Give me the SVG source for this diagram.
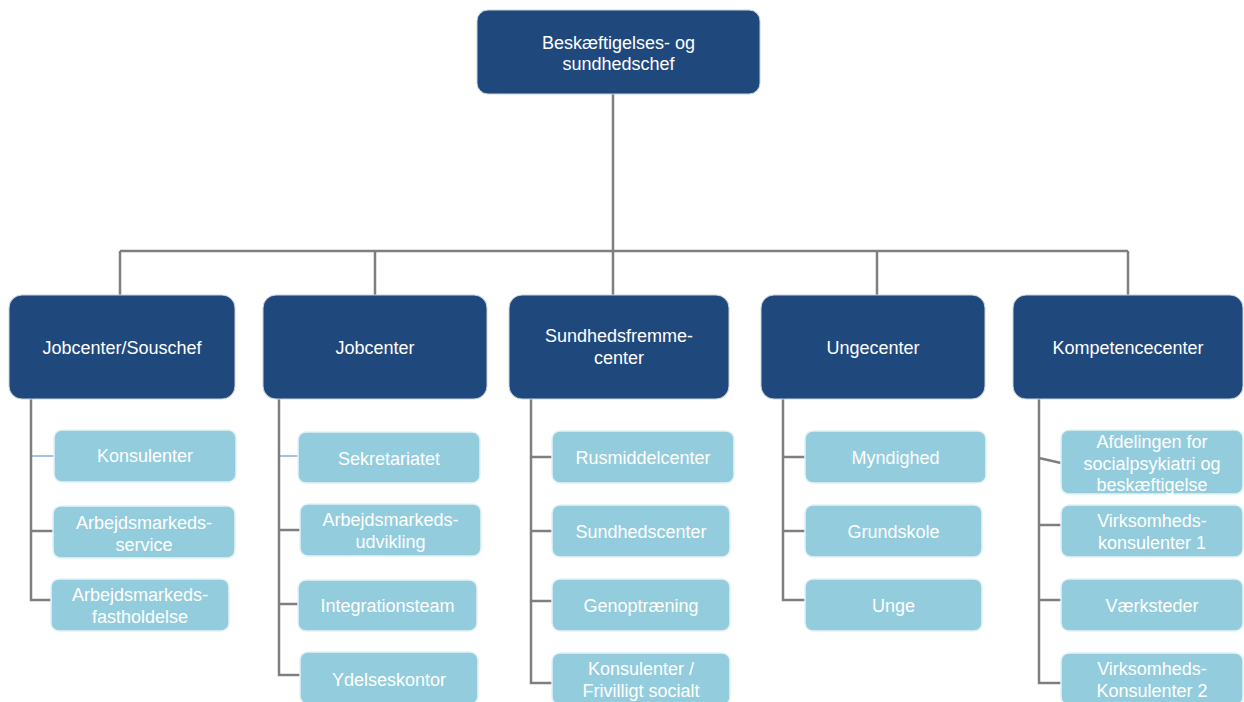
<svg xmlns="http://www.w3.org/2000/svg" width="1244" height="702" viewBox="0 0 1244 702">
<style>
.d{fill:#1f497d;stroke:#c9d3e0;stroke-width:1}
.l{fill:#93cddd;stroke:#e3f2f6;stroke-width:1.5}
.t{font-family:"Liberation Sans",Arial,sans-serif;font-size:18px;fill:#ffffff;text-anchor:middle}
.c{fill:none;stroke:#7f7f7f;stroke-width:2.5}
.b{fill:none;stroke:#4f81bd;stroke-width:1}
</style>
<rect width="1244" height="702" fill="#ffffff"/>
<g id="connectors">
<path class="c" d="M613 94V251M120 251H1128M120 251V295M375 251V295M613 251V295M877 251V295M1128 251V295"/>
<path class="c" d="M31 399V600H51M31 531H53"/>
<path class="b" d="M31 456H54"/>
<path class="c" d="M279 399V675H300M279 530H300M279 604H298"/>
<path class="b" d="M279 456H298"/>
<path class="c" d="M531 399V683H552M531 457H552M531 531H552M531 601H552"/>
<path class="c" d="M783 399V600H805M783 457H805M783 531H805"/>
<path class="c" d="M1039 399V683H1061M1039 458L1061 463M1039 525H1061M1039 600H1061"/>
</g>
<g id="n-top"><rect class="d" x="477" y="10" width="283" height="84" rx="11"/><text class="t" x="618.5" y="49">Beskæftigelses- og</text><text class="t" x="618.5" y="70">sundhedschef</text></g>
<g id="n-jcs"><rect class="d" x="9" y="295" width="226" height="104" rx="13"/><text class="t" x="122" y="354">Jobcenter/Souschef</text></g>
<g id="n-jc"><rect class="d" x="263" y="295" width="224" height="104" rx="13"/><text class="t" x="375" y="354">Jobcenter</text></g>
<g id="n-sf"><rect class="d" x="509" y="295" width="220" height="104" rx="13"/><text class="t" x="619" y="342">Sundhedsfremme-</text><text class="t" x="619" y="364">center</text></g>
<g id="n-uc"><rect class="d" x="761" y="295" width="224" height="104" rx="13"/><text class="t" x="873" y="354">Ungecenter</text></g>
<g id="n-kc"><rect class="d" x="1013" y="295" width="230" height="104" rx="13"/><text class="t" x="1128" y="354">Kompetencecenter</text></g>

<g id="n-kons"><rect class="l" x="54" y="430" width="182" height="52" rx="8"/><text class="t" x="145" y="462">Konsulenter</text></g>
<g id="n-ams"><rect class="l" x="53" y="506" width="182" height="52" rx="8"/><text class="t" x="144" y="529">Arbejdsmarkeds-</text><text class="t" x="144" y="551">service</text></g>
<g id="n-amf"><rect class="l" x="51" y="579" width="178" height="52" rx="8"/><text class="t" x="140" y="601">Arbejdsmarkeds-</text><text class="t" x="140" y="623">fastholdelse</text></g>

<g id="n-sek"><rect class="l" x="298" y="432" width="182" height="51" rx="8"/><text class="t" x="389" y="465">Sekretariatet</text></g>
<g id="n-amu"><rect class="l" x="300" y="504" width="181" height="52" rx="8"/><text class="t" x="390.5" y="526">Arbejdsmarkeds-</text><text class="t" x="390.5" y="548">udvikling</text></g>
<g id="n-int"><rect class="l" x="298" y="580" width="179" height="51" rx="8"/><text class="t" x="387.5" y="612">Integrationsteam</text></g>
<g id="n-yde"><rect class="l" x="300" y="652" width="178" height="52" rx="8"/><text class="t" x="389" y="686">Ydelseskontor</text></g>

<g id="n-rus"><rect class="l" x="552" y="431" width="182" height="52" rx="8"/><text class="t" x="643" y="464">Rusmiddelcenter</text></g>
<g id="n-sun"><rect class="l" x="552" y="505" width="178" height="52" rx="8"/><text class="t" x="641" y="538">Sundhedscenter</text></g>
<g id="n-gen"><rect class="l" x="552" y="579" width="178" height="52" rx="8"/><text class="t" x="641" y="612">Genoptræning</text></g>
<g id="n-kfs"><rect class="l" x="552" y="653" width="178" height="52" rx="8"/><text class="t" x="641" y="675">Konsulenter /</text><text class="t" x="641" y="697">Frivilligt socialt</text></g>

<g id="n-myn"><rect class="l" x="805" y="431" width="181" height="52" rx="8"/><text class="t" x="895.5" y="464">Myndighed</text></g>
<g id="n-gru"><rect class="l" x="805" y="505" width="177" height="52" rx="8"/><text class="t" x="893.5" y="538">Grundskole</text></g>
<g id="n-ung"><rect class="l" x="805" y="579" width="177" height="52" rx="8"/><text class="t" x="893.5" y="612">Unge</text></g>

<g id="n-afd"><rect class="l" x="1061" y="430" width="182" height="64" rx="8"/><text class="t" x="1152" y="448">Afdelingen for</text><text class="t" x="1152" y="469.5">socialpsykiatri og</text><text class="t" x="1152" y="491">beskæftigelse</text></g>
<g id="n-vk1"><rect class="l" x="1061" y="505" width="182" height="52" rx="8"/><text class="t" x="1152" y="527">Virksomheds-</text><text class="t" x="1152" y="549">konsulenter 1</text></g>
<g id="n-vae"><rect class="l" x="1061" y="579" width="182" height="52" rx="8"/><text class="t" x="1152" y="612">Værksteder</text></g>
<g id="n-vk2"><rect class="l" x="1061" y="653" width="182" height="52" rx="8"/><text class="t" x="1152" y="675">Virksomheds-</text><text class="t" x="1152" y="697">Konsulenter 2</text></g>
</svg>
